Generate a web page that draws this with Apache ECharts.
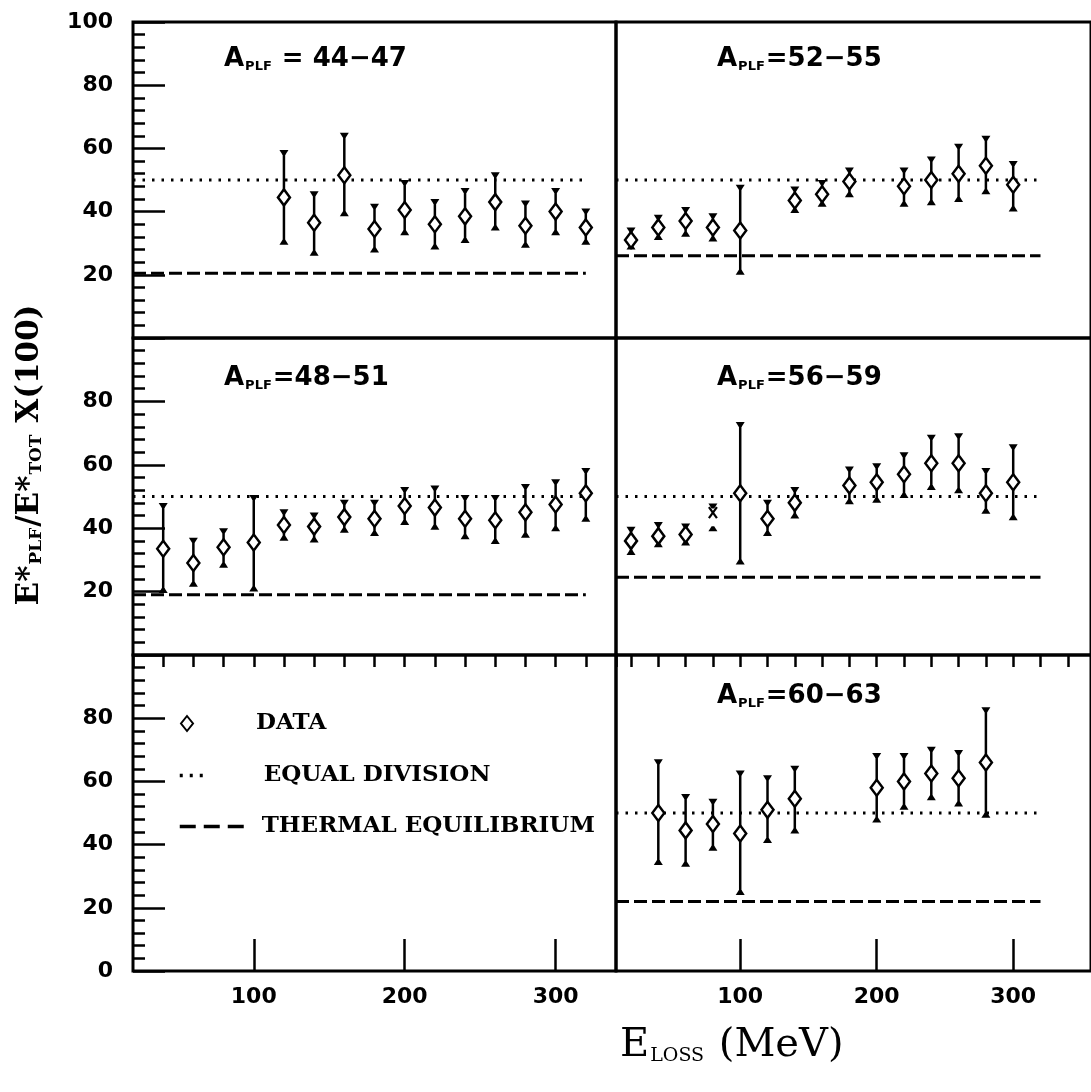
<!DOCTYPE html>
<html><head><meta charset="utf-8">
<script src="https://cdn.jsdelivr.net/npm/echarts@6/dist/echarts.min.js"></script>
<style>html,body{margin:0;padding:0;background:#fff}#c{width:1091px;height:1092px}</style>
</head><body><div id="c"></div>
<script>
// ---------------- DATA ----------------
// each point: [E_loss, value, errLow, errHigh]
const data44_47 = [[120,44.5,30,59],[140,36.5,26.5,46],[160,51.5,39,64.5],[180,34.5,27.5,42],[200,40.5,33,49.5],[220,36,28.5,43.5],[240,38.5,30.5,47],[260,43,34.5,52],[280,35.5,29,43],[300,40,33,47],[320,35,30,40.5]];
const data52_55 = [[20,31,28.5,34.5],[40,35,31.5,38.5],[60,37,32.5,41],[80,35,31,39],[100,34,20.5,48],[140,43.5,40,47.5],[160,45.5,42,49.5],[180,49.5,45,53.5],[220,48,42,53.5],[240,50,42.5,57],[260,52,43.5,61],[280,54.5,46,63.5],[300,48.5,40.5,55.5]];
const data48_51 = [[40,33.5,20,47.5],[60,29,22,36.5],[80,34,28,39.5],[100,35.5,20.5,50],[120,41,36.5,45.5],[140,40.5,36,44.5],[160,43.5,39,48.5],[180,43,38,48.5],[200,47,41.5,52.5],[220,46.5,40,53],[240,43,37,50],[260,42.5,35.5,50],[280,45,37.5,53.5],[300,47.5,39.5,55],[320,51,42.5,58.5]];
const data56_59 = [[20,36,32,40],[40,37.5,34.5,41.5],[60,38,35,41],[100,51,29,73],[120,43,38,48.5],[140,48,43.5,52.5],[180,53.5,48,59],[200,54.5,48.5,60],[220,57,50,63.5],[240,60.5,52.5,69],[260,60.5,51.5,69.5],[280,51,45,58.5],[300,54.5,43,66]];
const cross56_59 = [[80,39.5,47.3]]; // point drawn as an "x" marker: [E_loss, errLow, errHigh]
const data60_63 = [[40,50,34,66.5],[60,44.5,33.5,55.5],[80,46.5,38.5,54],[100,43.5,24.5,63],[120,51,41,61.5],[140,54.5,44,64.5],[200,58,47.5,68.5],[220,60,51.5,68.5],[240,62.5,54.5,70.5],[260,61,52.5,69.5],[280,66,49,83]];

const panelRanges = ['44−47','52−55','48−51','56−59','','60−63'];
const panelData = [data44_47, data52_55, data48_51, data56_59, null, data60_63];
const equalDivision = 50;
const thermalEquilibrium = [20.5, 26, 19, 24.5, null, 22];
const refLineEnd = 320;

const xMajorTicks = [100, 200, 300];
const xMinorTicks = [20,40,60,80,100,120,140,160,180,200,220,240,260,280,300,320,340];
const legendNames = ['DATA', 'EQUAL DIVISION', 'THERMAL EQUILIBRIUM'];

// ---------------- LAYOUT ----------------
const colMin = [20, 9], colMax = [340, 357];
const gridLeft = [133, 616], gridWidth = [483, 480];
const gridTop = [22, 338, 655], gridHeight = [316, 317, 316];
const SANS = 'DejaVu Sans', SERIF = 'DejaVu Serif';

const grids = [], xAxes = [], yAxes = [], series = [], titles = [];
for (let i = 0; i < 6; i++) {
  const row = Math.floor(i / 2), col = i % 2;
  grids.push({left: gridLeft[col], top: gridTop[row], width: gridWidth[col], height: gridHeight[row],
    show: true, borderColor: '#000', borderWidth: 3, backgroundColor: 'transparent'});
  const bottom = row === 2;
  const labelStyle = {fontFamily: SANS, fontWeight: 'bold', fontSize: 22, color: '#000'};
  xAxes[i] = {gridIndex: i, type: 'value', min: colMin[col], max: colMax[col],
    axisLine: {show: false}, splitLine: {show: false},
    axisTick: {show: bottom, inside: true, length: 32, customValues: xMajorTicks, lineStyle: {color: '#000', width: 2.5}},
    axisLabel: Object.assign({show: bottom, margin: 15, customValues: xMajorTicks}, labelStyle)};
  xAxes[6 + i] = {gridIndex: i, type: 'value', min: colMin[col], max: colMax[col],
    axisLine: {show: false}, splitLine: {show: false},
    axisTick: {show: bottom, inside: true, length: 12, customValues: xMinorTicks, lineStyle: {color: '#000', width: 2.5}},
    axisLabel: {show: false}};
  yAxes.push({gridIndex: i, type: 'value', min: 0, max: 100, interval: 20,
    axisLine: {show: false}, splitLine: {show: false},
    axisTick: {show: col === 0, inside: true, length: 32, lineStyle: {color: '#000', width: 2.5}},
    minorTick: {show: col === 0, splitNumber: 5, length: 12, lineStyle: {color: '#000', width: 2.5}},
    axisLabel: Object.assign({show: col === 0, margin: 20, showMinLabel: row === 2, showMaxLabel: row === 0}, labelStyle)});

  if (panelRanges[i]) {
    const sep = i === 0 ? ' = ' : '=';
    titles.push({text: '{a|A}{s|PLF}{a|' + sep + panelRanges[i] + '}',
      left: col === 0 ? 219 : 712, top: [40, 359, 677][row],
      textStyle: {rich: {
        a: {fontFamily: SANS, fontWeight: 'bold', fontSize: 26, color: '#000'},
        s: {fontFamily: SANS, fontWeight: 'bold', fontSize: 13, color: '#000', padding: [15, 1, 0, 1]}
      }}});
  }

  if (panelData[i]) {
    const d = panelData[i];
    series.push({type: 'custom', xAxisIndex: i, yAxisIndex: i, silent: true,
      data: d.map(p => [p[0], p[2], p[3]]), encode: {x: 0, y: [1, 2]},
      renderItem: renderErr, z: 3});
    series.push({type: 'scatter', name: 'DATA', xAxisIndex: i, yAxisIndex: i,
      data: d.map(p => [p[0], p[1]]), symbol: 'diamond', symbolSize: [12, 16],
      itemStyle: {color: '#fff', borderColor: '#000', borderWidth: 2.5, opacity: 1}, z: 4});
  }
  if (thermalEquilibrium[i] != null) {
    series.push({type: 'line', name: 'EQUAL DIVISION', xAxisIndex: i, yAxisIndex: i, symbol: 'none',
      data: [[colMin[col], equalDivision], [refLineEnd, equalDivision]],
      itemStyle: {color: 'rgba(0,0,0,0)', borderWidth: 0},
      lineStyle: {color: '#000', width: 3, type: [2.5, 7], cap: 'butt'}, z: 2});
    series.push({type: 'line', name: 'THERMAL EQUILIBRIUM', xAxisIndex: i, yAxisIndex: i, symbol: 'none',
      data: [[colMin[col], thermalEquilibrium[i]], [refLineEnd, thermalEquilibrium[i]]],
      itemStyle: {color: 'rgba(0,0,0,0)', borderWidth: 0},
      lineStyle: {color: '#000', width: 3, type: [13, 5]}, z: 2});
  }
}
series.push({type: 'custom', xAxisIndex: 3, yAxisIndex: 3, silent: true,
  data: cross56_59, encode: {x: 0, y: [1, 2]}, renderItem: renderCross, z: 3});

function caps(x, yTop, yBot) {
  return [
    {type: 'polygon', shape: {points: [[x - 4.5, yTop - 1.5], [x + 4.5, yTop - 1.5], [x + 1.3, yTop + 3.5], [x - 1.3, yTop + 3.5]]}, style: {fill: '#000'}},
    {type: 'polygon', shape: {points: [[x - 4.5, yBot + 1.5], [x + 4.5, yBot + 1.5], [x + 1.3, yBot - 3.5], [x - 1.3, yBot - 3.5]]}, style: {fill: '#000'}}
  ];
}
function renderErr(params, api) {
  const x = api.value(0);
  const pLo = api.coord([x, api.value(1)]), pHi = api.coord([x, api.value(2)]);
  return {type: 'group', children: [
    {type: 'line', shape: {x1: pHi[0], y1: pHi[1], x2: pLo[0], y2: pLo[1]}, style: {stroke: '#000', lineWidth: 2.5}}
  ].concat(caps(pHi[0], pHi[1], pLo[1]))};
}
function renderCross(params, api) {
  const x = api.value(0);
  const pLo = api.coord([x, api.value(1)]), pHi = api.coord([x, api.value(2)]);
  const cx = pHi[0], y0 = pHi[1] + 2;
  return {type: 'group', children: [
    {type: 'line', shape: {x1: cx - 4, y1: y0, x2: cx + 4, y2: y0 + 11}, style: {stroke: '#000', lineWidth: 2.2}},
    {type: 'line', shape: {x1: cx + 4, y1: y0, x2: cx - 4, y2: y0 + 11}, style: {stroke: '#000', lineWidth: 2.2}}
  ].concat(caps(cx, pHi[1], pLo[1]))};
}

const legendText = {fontFamily: SERIF, fontWeight: 'bold', fontSize: 23, color: '#000'};
const option = {
  animation: false,
  backgroundColor: '#fff',
  grid: grids, xAxis: xAxes, yAxis: yAxes, series: series, title: titles,
  legend: [
    {data: [legendNames[0]], left: 175, top: 707, itemWidth: 12, itemHeight: 15, selectedMode: false,
      textStyle: Object.assign({padding: [0, 0, 0, 58]}, legendText)},
    {data: [legendNames[1]], left: 173, top: 759, itemWidth: 24, itemHeight: 14, selectedMode: false,
      itemStyle: {opacity: 0},
      lineStyle: {width: 3.5, type: [3, 7]},
      textStyle: Object.assign({padding: [0, 0, 0, 55]}, legendText)},
    {data: [legendNames[2]], left: 173, top: 810, itemWidth: 65, itemHeight: 14, selectedMode: false,
      itemStyle: {opacity: 0},
      lineStyle: {width: 3.5, type: [16, 8]},
      textStyle: Object.assign({padding: [0, 0, 0, 12]}, legendText)}
  ],
  graphic: [
    {type: 'text', x: 30, y: 455, rotation: Math.PI / 2,
      style: {text: '{e|E*}{s|PLF}{e|/E*}{s|TOT}{e| X(100)}', align: 'center', verticalAlign: 'middle',
        rich: {e: {fontFamily: SERIF, fontWeight: 'bold', fontSize: 31, fill: '#000'},
               s: {fontFamily: SERIF, fontWeight: 'bold', fontSize: 17, fill: '#000', padding: [14, 1, 0, 1]}}}},
    {type: 'text', x: 620, y: 1026,
      style: {text: '{e|E}{s|LOSS}{e| (MeV)}',
        rich: {e: {fontFamily: SERIF, fontSize: 40, fill: '#000'},
               s: {fontFamily: SERIF, fontSize: 19, fill: '#000', padding: [20, 2, 0, 1]}}}}
  ]
};
const chart = echarts.init(document.getElementById('c'));
chart.setOption(option);
</script>
</body></html>
